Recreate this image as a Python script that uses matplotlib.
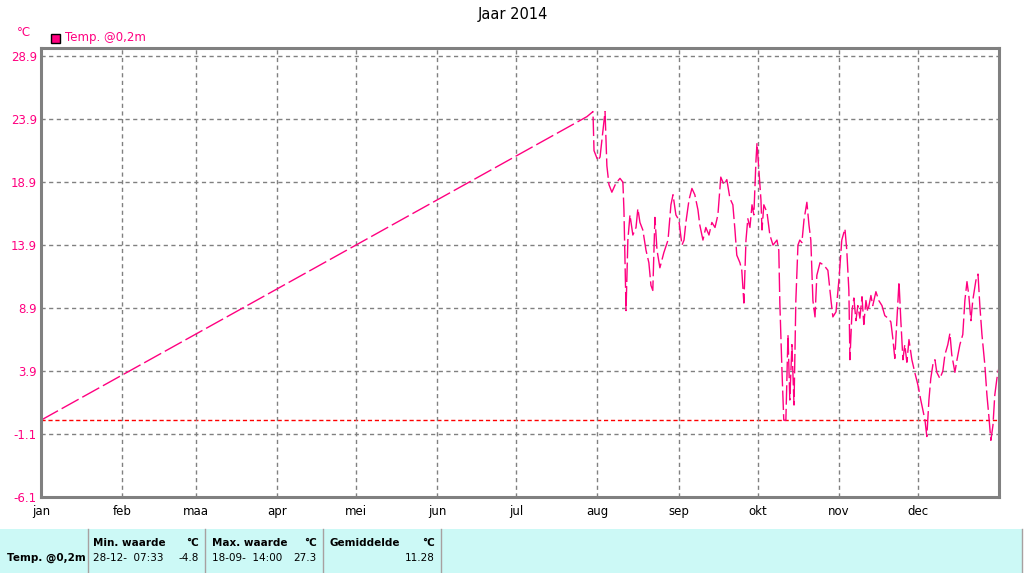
import matplotlib
matplotlib.use("Agg")
import matplotlib.pyplot as plt
from matplotlib.patches import Rectangle

# day of year (0 = 1 jan) and temperature at 0,2m
days = [
    0.0, 208.0, 210.3, 210.7, 212.2, 213.0, 214.1, 214.9, 215.6, 216.4,
    217.5, 219.0, 220.6, 221.7, 222.1, 222.9, 223.6, 224.4, 225.5, 226.7,
    227.4, 228.2, 229.3, 230.5, 231.6, 232.4, 233.1, 233.9, 234.7, 235.8,
    237.3, 238.9, 240.0, 240.8, 241.9, 243.0, 244.2, 245.0, 245.7, 246.9,
    248.0, 249.1, 250.3, 251.0, 252.2, 253.3, 254.5, 255.6, 256.8, 257.9,
    259.0, 260.2, 261.3, 262.5, 263.6, 264.4, 265.1, 266.3, 267.0, 267.8,
    268.6, 269.3, 270.1, 270.9, 271.6, 272.4, 272.8, 273.5, 274.3, 274.7,
    275.4, 276.6, 277.7, 278.9, 280.4, 281.1, 281.5, 282.3, 283.0, 283.8,
    284.6, 285.3, 286.1, 286.9, 287.6, 288.4, 289.1, 289.9, 290.7, 291.8,
    292.6, 293.3, 294.1, 294.9, 295.6, 296.8, 298.3, 299.8, 301.0, 301.7,
    302.9, 304.0, 305.1, 306.3, 307.0, 307.8, 308.2, 309.0, 309.7, 310.5,
    311.2, 312.0, 312.8, 313.5, 314.3, 315.0, 316.2, 316.9, 318.1, 319.2,
    320.4, 321.5, 322.7, 323.8, 324.6, 325.3, 326.5, 326.9, 327.6, 328.4,
    329.1, 329.9, 330.7, 331.8, 332.9, 334.1, 335.2, 336.0, 336.8, 337.5,
    338.3, 339.0, 339.8, 340.6, 341.3, 342.5, 343.6, 344.4, 345.5, 346.3,
    347.0, 348.2, 349.0, 350.1, 351.2, 352.0, 352.8, 353.5, 354.3, 355.0,
    356.2, 357.0, 357.7, 358.5, 359.6, 360.4, 361.1, 361.9, 362.7, 363.4,
    364.2, 364.9,
]
temps = [
    0.0, 24.1, 24.5, 21.4, 20.6, 20.9, 23.0, 24.5, 20.2, 18.7,
    18.1, 18.8, 19.2, 18.9, 16.7, 8.7, 14.3, 16.3, 14.7, 15.3,
    16.8, 15.7, 15.1, 13.5, 12.5, 10.7, 10.3, 16.1, 13.5, 12.1,
    13.3, 14.3, 17.1, 17.9, 16.3, 15.9, 13.9, 14.3, 15.7, 17.5,
    18.4, 17.9, 16.7, 15.5, 14.3, 15.3, 14.7, 15.7, 15.3, 16.3,
    19.3, 18.7, 19.1, 17.6, 17.1, 15.1, 13.1, 12.5, 11.9, 9.3,
    14.3, 16.0, 15.3, 17.1, 16.3, 20.6, 22.0, 19.9, 17.5, 15.1,
    17.1, 16.5, 14.7, 13.9, 14.3, 13.5, 9.3, 4.0, 0.0, 0.0,
    6.8, 1.6, 6.0, 1.2, 9.5, 13.9, 14.3, 14.1, 15.9, 17.3,
    15.5, 14.3, 9.5, 8.2, 11.5, 12.5, 12.3, 11.9, 9.5, 8.2,
    8.6, 11.1, 14.3, 15.2, 13.5, 10.3, 4.8, 8.7, 9.7, 7.9,
    9.1, 8.1, 9.8, 7.6, 9.5, 8.6, 9.9, 9.1, 10.2, 9.5,
    9.1, 8.3, 8.1, 7.8, 6.4, 4.9, 9.5, 11.0, 7.9, 4.8,
    6.0, 4.6, 6.4, 4.8, 3.8, 2.8, 1.6, 0.8, 0.0, -1.3,
    1.6, 3.3, 4.4, 4.8, 3.8, 3.3, 3.9, 5.2, 6.0, 6.9,
    5.2, 3.8, 4.8, 6.0, 6.8, 9.5, 11.0, 9.9, 7.9, 9.5,
    11.1, 11.6, 9.1, 6.8, 4.4, 2.0, 0.4, -1.6, -0.4, 2.0,
    3.3, 4.1,
]

month_days = [0, 31, 59, 90, 120, 151, 181, 212, 243, 273, 304, 334]
month_labels = ["jan", "feb", "maa", "apr", "mei", "jun",
                "jul", "aug", "sep", "okt", "nov", "dec"]
y_ticks = [28.9, 23.9, 18.9, 13.9, 8.9, 3.9, -1.1, -6.1]

# summary table under the chart
table_header = ["Min. waarde", "Max. waarde", "Gemiddelde"]
table_times = ["28-12-  07:33", "18-09-  14:00", ""]
table_values = ["-4.8", "27.3", "11.28"]
series_name = "Temp. @0,2m"

PINK = "#FF0080"
GRAY = "#808080"

fig = plt.figure(figsize=(10.24, 5.73), dpi=100)
W, H = 1024, 573

ax = fig.add_axes([41 / W, 1 - 497 / H, (999 - 41) / W, (497 - 48) / H])
ax.plot(days, temps, color=PINK, lw=1.0, linestyle=(0, (14, 3)))
ax.axhline(0, color="#FF0000", lw=1.0, linestyle=(0, (3, 2)), zorder=1)

ax.set_xlim(0, 365)
ax.set_ylim(-6.1, 29.55)
ax.set_xticks(month_days)
ax.set_xticklabels(month_labels, fontsize=8.5)
ax.set_yticks(y_ticks)
ax.set_yticklabels([f"{v:.1f}" for v in y_ticks], fontsize=8.5, color=PINK)
ax.tick_params(axis="both", length=0, pad=6)
ax.tick_params(axis="y", pad=3)
ax.grid(True, color=GRAY, lw=1.0, linestyle=(0, (3, 2.5)))
for s in ax.spines.values():
    s.set_color(GRAY)
    s.set_linewidth(2.2)

fig.text(513 / W, 1 - 15 / H, "Jaar 2014", ha="center", va="center", fontsize=10.5)
fig.text(24 / W, 1 - 33 / H, "°C", ha="center", va="center", fontsize=8.5, color=PINK)
fig.patches.append(Rectangle((51 / W, 1 - 43 / H), 9 / W, 9 / H,
                             transform=fig.transFigure, facecolor=PINK,
                             edgecolor="black", lw=1.0))
fig.text(65 / W, 1 - 38 / H, "Temp. @0,2m", ha="left", va="center",
         fontsize=8.5, color=PINK)

# bottom panel
fig.patches.append(Rectangle((0, 0), 1022 / W, (573 - 529) / H,
                             transform=fig.transFigure, facecolor="#CCF9F6",
                             edgecolor="none"))
for xs in [88, 205, 323, 441, 1022]:
    fig.add_artist(plt.Line2D([xs / W, xs / W], [0, (573 - 529) / H],
                              transform=fig.transFigure, color="#A8A0A0", lw=1.0))

col_left = [93, 212, 330]
col_right = [199, 317, 435]
row1 = 1 - 543 / H
row2 = 1 - 558 / H
for i in range(3):
    fig.text(col_left[i] / W, row1, table_header[i], ha="left", va="center",
             fontsize=7.5, fontweight="bold")
    fig.text(col_right[i] / W, row1, "°C", ha="right", va="center",
             fontsize=7.5, fontweight="bold")
    fig.text(col_left[i] / W, row2, table_times[i], ha="left", va="center", fontsize=7.5)
    fig.text(col_right[i] / W, row2, table_values[i], ha="right", va="center", fontsize=7.5)
fig.text(7 / W, row2, series_name, ha="left", va="center", fontsize=7.5, fontweight="bold")

fig.savefig("out.png", dpi=100)
